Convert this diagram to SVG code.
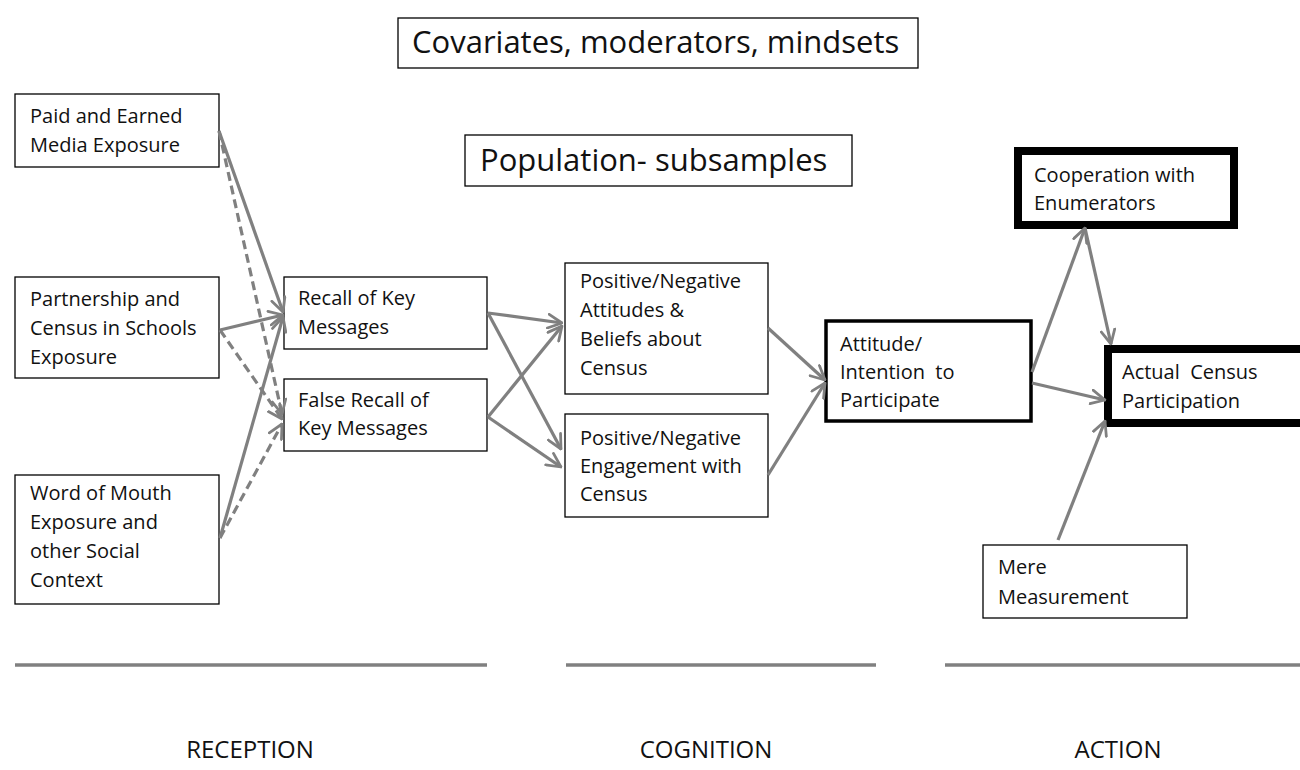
<svg xmlns="http://www.w3.org/2000/svg" width="1300" height="770" viewBox="0 0 1300 770">
<defs>
<marker id="ah" viewBox="0 0 12 12" refX="11" refY="6" markerWidth="5.2" markerHeight="5.2" markerUnits="strokeWidth" orient="auto">
<path d="M1,1 L11,6 L1,11" fill="none" stroke="#808080" stroke-width="2" stroke-linecap="round" stroke-linejoin="round"/>
</marker>
<style>
.box{fill:#fff;stroke:#000;stroke-width:1.3}
.thick{fill:#fff;stroke:#000;stroke-width:3.5}
.heavy{fill:#fff;stroke:#000;stroke-width:8}
.t{font-family:"Open Sans","Noto Sans",sans-serif;font-size:20px;fill:#111}
.big{font-family:"Open Sans","Noto Sans",sans-serif;font-size:31px;fill:#111}
.hdr{font-family:"Open Sans","Noto Sans",sans-serif;font-size:24px;fill:#111;text-anchor:middle}
.c{fill:none;stroke:#808080;stroke-width:3.2;marker-end:url(#ah)}
.d{stroke-dasharray:9 5}
.sep{stroke:#808080;stroke-width:3.5}
</style>
</defs>
<rect width="1300" height="770" fill="#fff"/>

<g id="covariates"><rect class="box" x="398" y="18" width="520" height="50"/><text class="big" x="412" y="53">Covariates, moderators, mindsets</text></g>
<g id="population"><rect class="box" x="465" y="135" width="387" height="51"/><text class="big" x="480" y="171">Population- subsamples</text></g>

<g id="paid"><rect class="box" x="15" y="94" width="204" height="73"/><text class="t" x="30" y="123">Paid and Earned</text><text class="t" x="30" y="152">Media Exposure</text></g>
<g id="partnership"><rect class="box" x="15" y="277" width="204" height="101"/><text class="t" x="30" y="306">Partnership and</text><text class="t" x="30" y="335">Census in Schools</text><text class="t" x="30" y="364">Exposure</text></g>
<g id="wordofmouth"><rect class="box" x="15" y="475" width="204" height="129"/><text class="t" x="30" y="500">Word of Mouth</text><text class="t" x="30" y="529">Exposure and</text><text class="t" x="30" y="558">other Social</text><text class="t" x="30" y="587">Context</text></g>

<g id="recall"><rect class="box" x="284" y="277" width="203" height="72"/><text class="t" x="298" y="305">Recall of Key</text><text class="t" x="298" y="334">Messages</text></g>
<g id="falserecall"><rect class="box" x="284" y="379" width="203" height="72"/><text class="t" x="298" y="407">False Recall of</text><text class="t" x="298" y="435">Key Messages</text></g>

<g id="attitudes"><rect class="box" x="565" y="263" width="203" height="131"/><text class="t" x="580" y="288">Positive/Negative</text><text class="t" x="580" y="317">Attitudes &amp;</text><text class="t" x="580" y="346">Beliefs about</text><text class="t" x="580" y="375">Census</text></g>
<g id="engagement"><rect class="box" x="565" y="414" width="203" height="103"/><text class="t" x="580" y="445">Positive/Negative</text><text class="t" x="580" y="473">Engagement with</text><text class="t" x="580" y="501">Census</text></g>

<g id="intention"><rect class="thick" x="826" y="321" width="205" height="100"/><text class="t" x="840" y="351">Attitude/</text><text class="t" x="840" y="379" xml:space="preserve">Intention  to</text><text class="t" x="840" y="407">Participate</text></g>

<g id="cooperation"><rect class="heavy" x="1018" y="151" width="216" height="74"/><text class="t" x="1034" y="182">Cooperation with</text><text class="t" x="1034" y="210">Enumerators</text></g>
<g id="actual"><rect class="heavy" x="1108" y="349" width="200" height="74"/><text class="t" x="1122" y="379" xml:space="preserve">Actual  Census</text><text class="t" x="1122" y="408">Participation</text></g>
<g id="mere"><rect class="box" x="983" y="545" width="204" height="73"/><text class="t" x="998" y="574">Mere</text><text class="t" x="998" y="604">Measurement</text></g>

<g id="connectors">
<line class="c" x1="219" y1="131" x2="283" y2="312"/>
<line class="c d" x1="219" y1="131" x2="282" y2="414"/>
<line class="c" x1="220" y1="330" x2="283" y2="315"/>
<line class="c d" x1="220" y1="330" x2="282" y2="419"/>
<line class="c" x1="220" y1="538" x2="283" y2="317"/>
<line class="c d" x1="220" y1="538" x2="282" y2="424"/>

<line class="c" x1="488" y1="313" x2="562" y2="323"/>
<line class="c" x1="488" y1="313" x2="561" y2="449"/>
<line class="c" x1="488" y1="417" x2="562" y2="326"/>
<line class="c" x1="488" y1="417" x2="561" y2="467"/>

<line class="c" x1="768" y1="328" x2="825" y2="380"/>
<line class="c" x1="768" y1="475" x2="825" y2="383"/>

<line class="c" x1="1032" y1="372" x2="1085" y2="228"/>
<line class="c" x1="1085" y1="228" x2="1111" y2="344"/>
<line class="c" x1="1032" y1="383" x2="1105" y2="400"/>
<line class="c" x1="1058" y1="540" x2="1105" y2="421"/>
</g>

<g id="phases">
<line class="sep" x1="15" y1="665" x2="487" y2="665"/>
<line class="sep" x1="566" y1="665" x2="876" y2="665"/>
<line class="sep" x1="945" y1="665" x2="1300" y2="665"/>
<text class="hdr" x="250" y="758">RECEPTION</text>
<text class="hdr" x="706" y="758">COGNITION</text>
<text class="hdr" x="1118" y="758">ACTION</text>
</g>
</svg>
